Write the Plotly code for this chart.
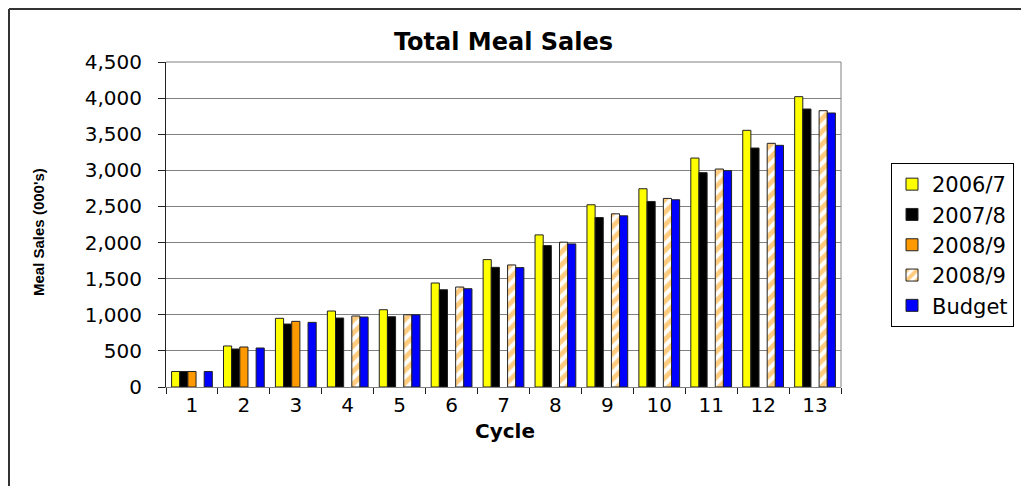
import plotly.graph_objects as go

cycles = [str(i) for i in range(1, 14)]
sales_2006_7 = [215, 568, 951, 1052, 1070, 1440, 1764, 2106, 2523, 2745, 3170, 3554, 4020]
sales_2007_8 = [215, 526, 872, 955, 973, 1347, 1657, 1958, 2347, 2569, 2968, 3309, 3849]
sales_2008_9 = [215, 554, 909, None, None, None, None, None, None, None, None, None, None]
sales_2008_9_fc = [None, None, None, 983, 1000, 1384, 1690, 2005, 2398, 2611, 3018, 3374, 3826]
budget = [215, 540, 895, 969, 1000, 1361, 1653, 1981, 2370, 2593, 2995, 3346, 3794]
y_ticks = [0, 500, 1000, 1500, 2000, 2500, 3000, 3500, 4000, 4500]

FONT = "DejaVu Sans, Liberation Sans, Arial, sans-serif"
ARIAL = "Liberation Sans, Arial, sans-serif"
outline = dict(color="#222222", width=1)

W, H = 1021, 478
L, R, T, B = 158, 188, 54, 99
PW, PH = W - L - R, H - T - B

fig = go.Figure()
fig.add_bar(name="2006/7", x=cycles, y=sales_2006_7,
            marker=dict(color="#FFFF00", line=outline))
fig.add_bar(name="2007/8", x=cycles, y=sales_2007_8,
            marker=dict(color="#000000", line=outline))
fig.add_bar(name="2008/9", x=cycles, y=sales_2008_9,
            marker=dict(color="#FF9900", line=outline))
fig.add_bar(name="2008/9", x=cycles, y=sales_2008_9_fc,
            marker=dict(color="#FFFFFF", line=outline,
                        pattern=dict(shape="/", fgcolor="#FF9900", bgcolor="#FFFFFF",
                                     size=9, solidity=0.55, fillmode="overlay")))
fig.add_bar(name="Budget", x=cycles, y=budget,
            marker=dict(color="#0000FF", line=outline))

fig.update_layout(
    width=W, height=H,
    barmode="group", bargap=0.215, bargroupgap=0,
    paper_bgcolor="white", plot_bgcolor="white",
    margin=dict(l=L, r=R, t=T, b=B, autoexpand=False),
    font=dict(family=FONT, size=20, color="black"),
    title=dict(text="<b>Total Meal Sales</b>", x=0.5, xref="paper", xanchor="center",
               y=1 - 34 / H, yanchor="middle",
               font=dict(family=FONT, size=24, color="black")),
    legend=dict(x=(883 - L) / PW, xanchor="left", y=(379 - 237) / PH, yanchor="middle",
                bordercolor="black", borderwidth=1, bgcolor="white",
                font=dict(family=FONT, size=21, color="black"),
                tracegroupgap=0, itemwidth=30),
    showlegend=True,
)

fig.update_xaxes(
    type="category", showline=True, linecolor="#808080", linewidth=1,
    ticks="outside", tickson="boundaries", ticklen=6, tickcolor="#222222",
    showgrid=False, mirror=False,
    tickfont=dict(family=FONT, size=20, color="black"),
)
fig.update_yaxes(
    range=[0, 4500], tickvals=y_ticks, tickformat=",d",
    showline=True, linecolor="#222222", linewidth=1,
    ticks="outside", ticklen=7, tickcolor="#222222", ticklabelstandoff=12,
    showgrid=True, gridcolor="#808080", gridwidth=1,
    zeroline=False,
    tickfont=dict(family=FONT, size=20, color="black"),
)

# axis titles
fig.add_annotation(text="<b>Cycle</b>", xref="paper", yref="paper",
                   x=(497 - L) / PW, y=(379 - 423) / PH, showarrow=False,
                   xanchor="center", yanchor="middle",
                   font=dict(family=FONT, size=20, color="black"))
fig.add_annotation(text="<b>Meal Sales (000's)</b>", xref="paper", yref="paper",
                   x=(31 - L) / PW, y=(379 - 224) / PH, showarrow=False,
                   textangle=-90, xanchor="center", yanchor="middle",
                   font=dict(family=ARIAL, size=15, color="black"))

# plot-area border (top and right) and outer chart border (left and top)
fig.add_shape(type="line", xref="paper", yref="paper", x0=0, x1=1, y0=1, y1=1,
              line=dict(color="#808080", width=1))
fig.add_shape(type="line", xref="paper", yref="paper", x0=1, x1=1, y0=0, y1=1,
              line=dict(color="#808080", width=1))
fig.add_shape(type="line", xref="paper", yref="paper",
              x0=(1 - L) / PW, x1=(W + 10 - L) / PW,
              y0=(PH + T - 1) / PH, y1=(PH + T - 1) / PH,
              line=dict(color="#333333", width=2))
fig.add_shape(type="line", xref="paper", yref="paper",
              x0=(1 - L) / PW, x1=(1 - L) / PW,
              y0=(PH + T - 1) / PH, y1=-(B + 10) / PH,
              line=dict(color="#333333", width=2))

fig.write_html("out.html")
